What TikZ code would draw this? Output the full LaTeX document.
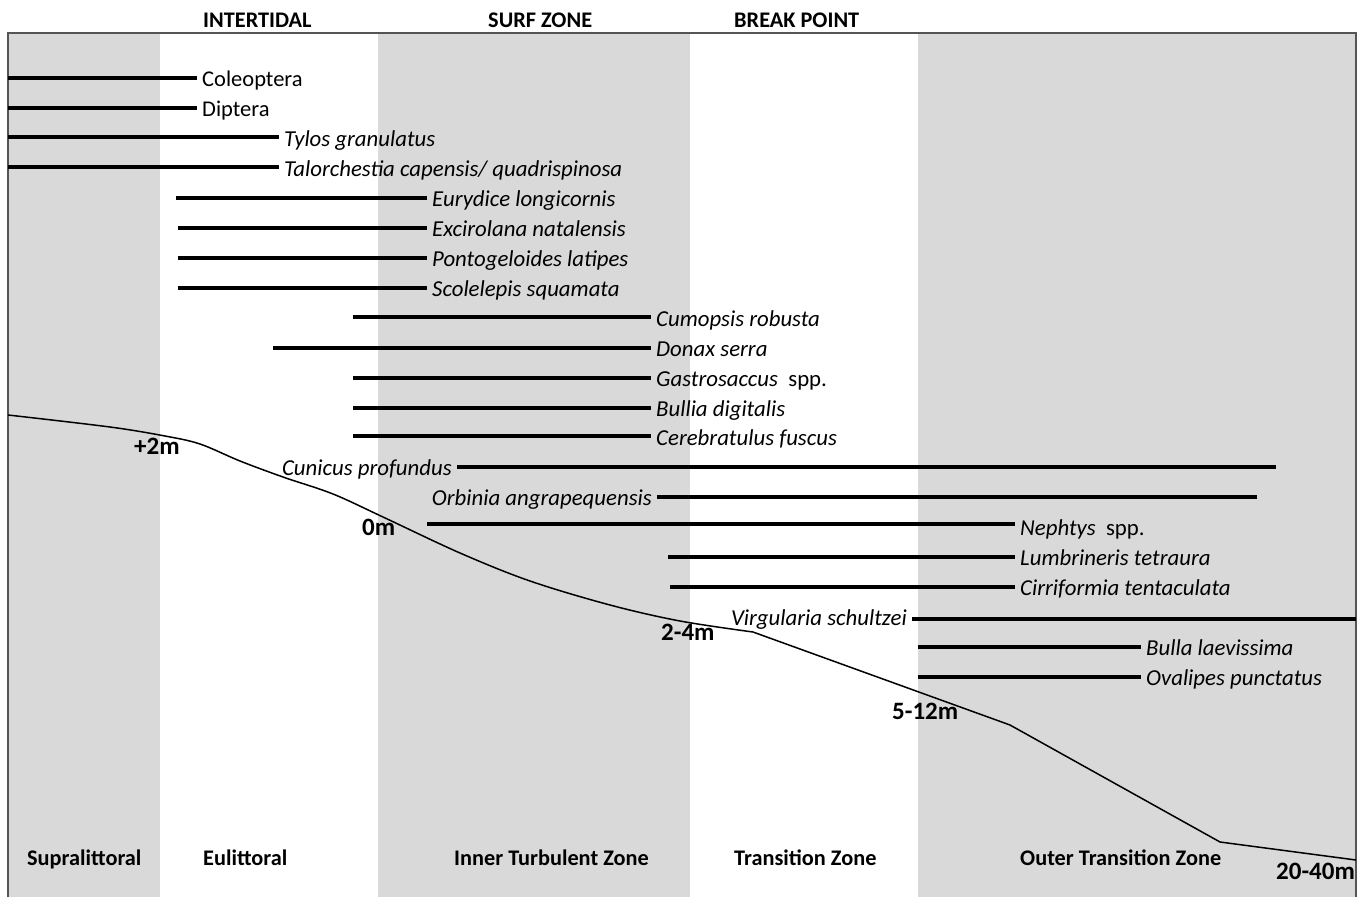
\documentclass[tikz,border=0pt]{standalone}
\usepackage{fontspec}
\setmainfont{Carlito}
\definecolor{band}{HTML}{D9D9D9}
\definecolor{frame}{HTML}{555555}
\begin{document}
\begin{tikzpicture}[x=1pt,y=-1pt,
  sp/.style={font=\fontsize{22.8}{26}\selectfont\itshape, inner ysep=0pt, inner xsep=5pt, text height=17pt, text depth=3pt},
  up/.style={font=\fontsize{22.5}{26}\selectfont, inner ysep=0pt, inner xsep=5pt, text height=17pt, text depth=3pt},
  hd/.style={font=\fontsize{22.3}{26}\selectfont\bfseries, inner sep=0pt, anchor=west, text height=17pt, text depth=3pt},
  dp/.style={hd, font=\fontsize{25}{28}\selectfont\bfseries},
  bar/.style={line width=3.6pt},
  prof/.style={line width=1.5pt}]
\useasboundingbox (0,0) rectangle (1368,897);
% bands
\fill[band] (8,33) rectangle (160,897);
\fill[band] (378,33) rectangle (690,897);
\fill[band] (918,33) rectangle (1356,897);
\draw[frame, line width=1.3pt] (8,897) -- (8,33) -- (1356,33) -- (1356,897);
% headers
\node[hd] (h1) at (203,20) {INTERTIDAL};
\node[hd] (h2) at (488,20) {SURF ZONE};
\node[hd] (h3) at (734,20) {BREAK POINT};
% bottom zone labels
\node[hd] (z1) at (27,858) {Supralittoral};
\node[hd] (z2) at (203,858) {Eulittoral};
\node[hd] (z3) at (454,858) {Inner Turbulent Zone};
\node[hd] (z4) at (734,858) {Transition Zone};
\node[hd] (z5) at (1020,858) {Outer Transition Zone};
% depth labels
\node[dp] (d1) at (134,447) {+2m};
\node[dp] (d2) at (362,528) {0m};
\node[dp] (d3) at (661,633) {2-4m};
\node[dp] (d4) at (892,712) {5-12m};
\node[dp] (d5) at (1276,872) {20-40m};
% profile
\draw[prof] plot[smooth, tension=0.55] coordinates {(8,415) (110,427) (165,436) (200,444) (240,461) (283,477) (333,494) (383,517) (460,553) (530,581) (610,605) (680,621) (753,632)} -- (1010,725) -- (1220,842) -- (1356,860);
% species, text on the right of the bar
\node[up, anchor=west] (s1) at (197,79) {Coleoptera};
\node[up, anchor=west] (s2) at (197,109) {Diptera};
\node[sp, anchor=west] (s3) at (279,139) {Tylos granulatus};
\node[sp, anchor=west] (s4) at (279,169) {Talorchestia capensis/ quadrispinosa};
\node[sp, anchor=west] (s5) at (427,199) {Eurydice longicornis};
\node[sp, anchor=west] (s6) at (427,229) {Excirolana natalensis};
\node[sp, anchor=west] (s7) at (427,259) {Pontogeloides latipes};
\node[sp, anchor=west] (s8) at (427,289) {Scolelepis squamata};
\node[sp, anchor=west] (s9) at (651,319) {Cumopsis robusta};
\node[sp, anchor=west] (s10) at (651,349) {Donax serra};
\node[sp, anchor=west] (s11) at (651,379) {Gastrosaccus\ \ \upshape spp.};
\node[sp, anchor=west] (s12) at (651,409) {Bullia digitalis};
\node[sp, anchor=west] (s13) at (651,438) {Cerebratulus fuscus};
\node[sp, anchor=east] (s14) at (457,468) {Cunicus profundus};
\node[sp, anchor=east] (s15) at (657,498) {Orbinia angrapequensis};
\node[sp, anchor=west] (s16) at (1015,528) {Nephtys\ \ \upshape spp.};
\node[sp, anchor=west] (s17) at (1015,558) {Lumbrineris tetraura};
\node[sp, anchor=west] (s18) at (1015,588) {Cirriformia tentaculata};
\node[sp, anchor=east] (s19) at (912,618) {Virgularia schultzei};
\node[sp, anchor=west] (s20) at (1141,648) {Bulla laevissima};
\node[sp, anchor=west] (s21) at (1141,678) {Ovalipes punctatus};
% free ends
\coordinate (e1) at (8,78);
\coordinate (e2) at (8,108);
\coordinate (e3) at (8,137);
\coordinate (e4) at (8,167);
\coordinate (e5) at (176,198);
\coordinate (e6) at (178,228);
\coordinate (e7) at (178,258);
\coordinate (e8) at (178,288);
\coordinate (e9) at (353,317);
\coordinate (e10) at (273,348);
\coordinate (e11) at (353,378);
\coordinate (e12) at (353,408);
\coordinate (e13) at (353,436);
\coordinate (e14) at (1276,467);
\coordinate (e15) at (1257,497);
\coordinate (e16) at (427,524);
\coordinate (e17) at (668,557);
\coordinate (e18) at (670,587);
\coordinate (e19) at (1356,619);
\coordinate (e20) at (918,647);
\coordinate (e21) at (918,677);
% bars
\foreach \i in {1,...,13,16,17,18,20,21}{
  \draw[bar] (e\i) -- (e\i -| s\i.west);
}
\foreach \i in {14,15,19}{
  \draw[bar] (e\i -| s\i.east) -- (e\i);
}
\end{tikzpicture}
\end{document}
